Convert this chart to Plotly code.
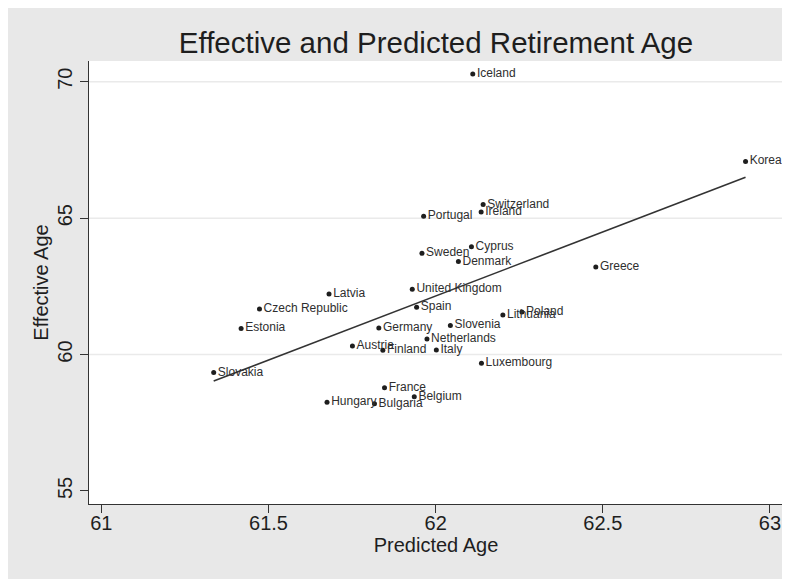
import numpy as np
import plotly.graph_objects as go

countries = ["Iceland", "Korea,", "Switzerland", "Ireland", "Portugal", "Cyprus",
             "Sweden", "Denmark", "Greece", "United Kingdom", "Latvia",
             "Czech Republic", "Spain", "Poland", "Lithuania", "Estonia",
             "Germany", "Slovenia", "Netherlands", "Austria", "Finland", "Italy",
             "Luxembourg", "Slovakia", "France", "Belgium", "Hungary", "Bulgaria"]
predicted_age = [62.111, 62.927, 62.142, 62.136, 61.964, 62.107,
                 61.959, 62.068, 62.479, 61.930, 61.681,
                 61.473, 61.943, 62.258, 62.201, 61.418,
                 61.830, 62.044, 61.974, 61.751, 61.842, 62.002,
                 62.137, 61.336, 61.847, 61.936, 61.675, 61.817]
effective_age = [70.28, 67.08, 65.50, 65.23, 65.07, 63.95,
                 63.71, 63.41, 63.21, 62.39, 62.22,
                 61.67, 61.73, 61.56, 61.45, 60.96,
                 60.97, 61.07, 60.57, 60.31, 60.16, 60.17,
                 59.68, 59.34, 58.78, 58.45, 58.25, 58.20]

x_ticks = [61, 61.5, 62, 62.5, 63]
x_tick_labels = ["61", "61.5", "62", "62.5", "63"]
y_ticks = [55, 60, 65, 70]
y_tick_labels = ["55", "60", "65", "70"]
grid_values = [60, 65, 70]

FONT = "Liberation Sans, Arial, sans-serif"
DARK = "#1e1e1e"
W, H = 782, 571
ML, MR, MT, MB = 81, 7, 53, 75

xs = np.array(predicted_age)
ys = np.array(effective_age)
slope, intercept = np.polyfit(xs, ys, 1)
fit_x = np.array([xs.min(), xs.max()])
fit_y = slope * fit_x + intercept

fig = go.Figure()
fig.add_trace(go.Scatter(
    x=fit_x, y=fit_y, mode="lines",
    line=dict(color="#333333", width=1.6),
    hoverinfo="skip", showlegend=False))
fig.add_trace(go.Scatter(
    x=predicted_age, y=effective_age, mode="markers+text",
    text=countries, textposition="middle right",
    textfont=dict(family=FONT, size=12, color="#2e2e2e"),
    marker=dict(size=5, color=DARK),
    showlegend=False, cliponaxis=True))

for g in grid_values:
    fig.add_shape(type="line", xref="paper", yref="y", x0=0, x1=1, y0=g, y1=g,
                  line=dict(color="#eaeaea", width=1.5), layer="below")

fig.update_layout(
    width=W, height=H,
    margin=dict(l=ML, r=MR, t=MT, b=MB),
    paper_bgcolor="#e8e8e8",
    plot_bgcolor="white",
    title=dict(text="Effective and Predicted Retirement Age",
               x=0.5, xref="paper", y=1 - 35 / H, yanchor="middle",
               font=dict(family=FONT, size=29.5, color="#1e1e1e")),
    xaxis=dict(range=[60.963, 63.039], tickvals=x_ticks, ticktext=x_tick_labels,
               showgrid=False, zeroline=False, showline=True, linecolor="#333333",
               linewidth=1, ticks="outside", ticklen=8, tickwidth=1, tickcolor="#333333",
               ticklabelstandoff=-7,
               tickfont=dict(family=FONT, size=20, color="#1e1e1e"),
               title=dict(text="Predicted Age", standoff=4,
                          font=dict(family=FONT, size=20, color="#1e1e1e"))),
    yaxis=dict(range=[54.523, 70.76], tickvals=y_ticks, ticktext=y_tick_labels,
               tickangle=-90,
               showgrid=False, zeroline=False, showline=True, linecolor="#333333",
               linewidth=1, ticks="outside", ticklen=8, tickwidth=1, tickcolor="#333333",
               tickfont=dict(family=FONT, size=20, color="#1e1e1e"),
               title=dict(text="Effective Age", standoff=0,
                          font=dict(family=FONT, size=20, color="#1e1e1e"))),
)

fig.write_html("out.html")
